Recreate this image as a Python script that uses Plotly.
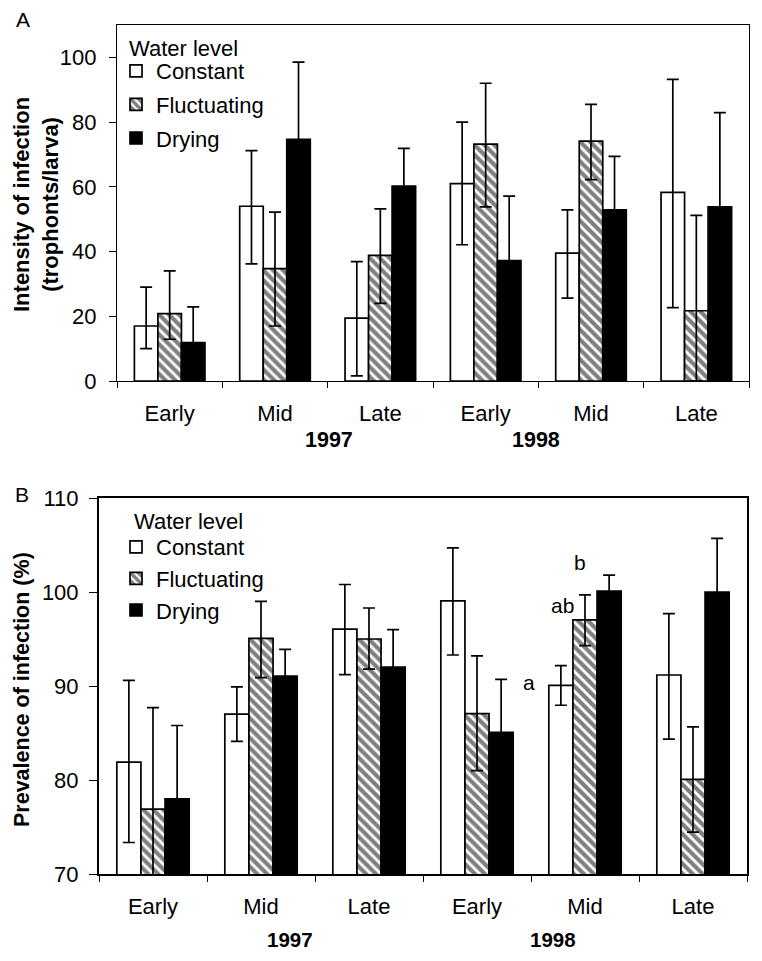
import plotly.graph_objects as go

# ---------------- data ----------------
categories = ["Early", "Mid", "Late", "Early", "Mid", "Late"]
years = ["1997", "1998"]
series = ["Constant", "Fluctuating", "Drying"]
legend_title = "Water level"
ytitle_a = "Intensity of infection<br>(trophonts/larva)"
ytitle_b = "Prevalence of infection (%)"

# Panel A: intensity of infection (trophonts/larva)
a_constant = [17, 54, 19.4, 61, 39.5, 58.3]
a_constant_up = [29, 71.2, 36.9, 80, 52.9, 93.2]
a_constant_lo = [10, 36.2, 1.6, 42.1, 25.6, 22.7]
a_fluct = [20.8, 34.7, 38.8, 73.2, 74.1, 21.7]
a_fluct_up = [34, 52.2, 53.2, 92, 85.5, 51.2]
a_fluct_lo = [12.9, 17, 24, 53.8, 62.2, 0]
a_drying = [11.9, 74.7, 60.2, 37.2, 52.9, 53.8]
a_drying_up = [22.9, 98.5, 71.9, 57.1, 69.4, 82.9]
a_drying_lo = [4, 55, 50, 22, 40, 30]

# Panel B: prevalence of infection (%)
b_constant = [81.9, 87.0, 96.05, 99.06, 90.07, 91.17]
b_constant_up = [90.6, 89.9, 100.8, 104.7, 92.16, 97.7]
b_constant_lo = [73.35, 84.1, 91.2, 93.3, 87.95, 84.35]
b_fluct = [76.9, 95.06, 95.0, 87.07, 97.04, 80.07]
b_fluct_up = [87.7, 99.0, 98.3, 93.2, 99.7, 85.65]
b_fluct_lo = [66.1, 90.9, 91.8, 81.0, 94.3, 74.45]
b_drying = [78.0, 91.06, 92.0, 85.06, 100.1, 100.0]
b_drying_up = [85.8, 93.9, 96.0, 90.7, 101.8, 105.7]
b_drying_lo = [70.2, 88.2, 88.0, 79.4, 98.4, 94.3]

letters = ["a", "ab", "b"]

x_pos = list(range(len(categories)))
FONT = "Liberation Sans, Arial, sans-serif"

fig = go.Figure()

def add_bars(vals, up, lo, name, style, xa, ya, legend):
    err = dict(type="data", symmetric=False,
               array=[u - v for u, v in zip(up, vals)],
               arrayminus=[v - l for v, l in zip(vals, lo)],
               color="black", thickness=1.7, width=6)
    marker = dict(line=dict(color="black", width=1.7))
    if style == "white":
        marker["color"] = "white"
    elif style == "hatch":
        marker["color"] = "white"
        marker["pattern"] = dict(shape="\\", fgcolor="black", bgcolor="white",
                                 size=7, solidity=0.6)
    else:
        marker["color"] = "black"
    fig.add_trace(go.Bar(x=x_pos, y=vals, name=name, marker=marker,
                         error_y=err, xaxis=xa, yaxis=ya, legend=legend,
                         legendgroup=name + legend, showlegend=True))

styles = ["white", "hatch", "black"]
for vals, up, lo, nm, st in zip([a_constant, a_fluct, a_drying],
                                [a_constant_up, a_fluct_up, a_drying_up],
                                [a_constant_lo, a_fluct_lo, a_drying_lo],
                                series, styles):
    add_bars(vals, up, lo, nm, st, "x", "y", "legend")
for vals, up, lo, nm, st in zip([b_constant, b_fluct, b_drying],
                                [b_constant_up, b_fluct_up, b_drying_up],
                                [b_constant_lo, b_fluct_lo, b_drying_lo],
                                series, styles):
    add_bars(vals, up, lo, nm, st, "x2", "y2", "legend2")

# the page body adds an 8 px margin, so the figure is 16 px smaller than the window
OFF = 8
W, H = 762 - 2 * OFF, 961 - 2 * OFF
def px_x(p): return (p - OFF) / W
def px_y(p): return 1 - (p - OFF) / H

boundaries = [i - 0.5 for i in range(len(categories) + 1)]
def xaxis_cfg(lw, standoff):
    return dict(range=[-0.5, 5.5], tickvals=x_pos, ticktext=categories, ticks="",
                showline=True, linecolor="black", linewidth=lw, mirror=True,
                tickfont=dict(family=FONT, size=22, color="black"),
                minor=dict(tickvals=boundaries, ticks="outside", ticklen=6,
                           tickcolor="black", tickwidth=1.3),
                ticklabelstandoff=standoff, automargin=False,
                showgrid=False, zeroline=False, fixedrange=True)

def yaxis_cfg(lw, tlen, standoff):
    return dict(showline=True, linecolor="black", linewidth=lw, mirror=True,
                ticks="outside", ticklen=tlen, tickcolor="black", tickwidth=1.3,
                tickfont=dict(family=FONT, size=22, color="black"),
                ticklabelstandoff=standoff, automargin=False,
                showgrid=False, zeroline=False)

fig.update_layout(
    width=W, height=H, margin=dict(l=0, r=0, t=0, b=0, autoexpand=False),
    paper_bgcolor="white", plot_bgcolor="white",
    barmode="group", bargap=0.33, bargroupgap=0,
    font=dict(family=FONT, color="black"),
    xaxis=dict(domain=[px_x(117), px_x(749)], anchor="y", **xaxis_cfg(1.3, 12)),
    yaxis=dict(domain=[px_y(381), px_y(25)], anchor="x", range=[0, 110],
               tickvals=[0, 20, 40, 60, 80, 100], **yaxis_cfg(1.3, 7, 8)),
    xaxis2=dict(domain=[px_x(99), px_x(747)], anchor="y2", **xaxis_cfg(2, 12)),
    yaxis2=dict(domain=[px_y(874), px_y(498)], anchor="x2", range=[70, 110],
                tickvals=[70, 80, 90, 100, 110], **yaxis_cfg(2, 8, 6)),
    legend=dict(x=px_x(116), y=px_y(50), xanchor="left", yanchor="top",
                bgcolor="rgba(0,0,0,0)", font=dict(family=FONT, size=22),
                tracegroupgap=2, itemwidth=30),
    legend2=dict(x=px_x(116), y=px_y(526), xanchor="left", yanchor="top",
                 bgcolor="rgba(0,0,0,0)", font=dict(family=FONT, size=22),
                 tracegroupgap=0, itemwidth=30),
)

ann = []
# panel letters
ann.append(dict(text="A", x=px_x(23), y=px_y(20), xref="paper", yref="paper",
                showarrow=False, font=dict(size=21), xanchor="center", yanchor="middle"))
ann.append(dict(text="B", x=px_x(21.5), y=px_y(494.5), xref="paper", yref="paper",
                showarrow=False, font=dict(size=21), xanchor="center", yanchor="middle"))
# y-axis titles
ann.append(dict(text="<b>" + ytitle_a + "</b>", x=px_x(36), y=px_y(205), xref="paper",
                yref="paper", textangle=-90, showarrow=False, font=dict(size=22),
                xanchor="center", yanchor="middle"))
ann.append(dict(text="<b>" + ytitle_b + "</b>", x=px_x(22), y=px_y(690), xref="paper",
                yref="paper", textangle=-90, showarrow=False, font=dict(size=21.5),
                xanchor="center", yanchor="middle"))
# legend titles
ann.append(dict(text=legend_title, x=px_x(127), y=px_y(48), xref="paper", yref="paper",
                showarrow=False, font=dict(size=22), xanchor="left", yanchor="middle"))
ann.append(dict(text=legend_title, x=px_x(132), y=px_y(521), xref="paper", yref="paper",
                showarrow=False, font=dict(size=22), xanchor="left", yanchor="middle"))
# year labels
ann.append(dict(text="<b>" + years[0] + "</b>", x=1.51, y=px_y(440), xref="x", yref="paper",
                showarrow=False, font=dict(size=21.5), yanchor="middle"))
ann.append(dict(text="<b>" + years[1] + "</b>", x=3.48, y=px_y(440), xref="x", yref="paper",
                showarrow=False, font=dict(size=21.5), yanchor="middle"))
ann.append(dict(text="<b>" + years[0] + "</b>", x=1.27, y=px_y(939), xref="x2", yref="paper",
                showarrow=False, font=dict(size=20.5), yanchor="middle", borderpad=0))
ann.append(dict(text="<b>" + years[1] + "</b>", x=3.70, y=px_y(939), xref="x2", yref="paper",
                showarrow=False, font=dict(size=20.5), yanchor="middle", borderpad=0))
# significance letters (panel B, 1998 Mid)
ann.append(dict(text=letters[0], x=4, y=b_constant_up[4], xref="x2", yref="y2",
                xshift=-56, yshift=-17, showarrow=False, font=dict(size=21)))
ann.append(dict(text=letters[1], x=4, y=b_fluct_up[4], xref="x2", yref="y2",
                xshift=-23, yshift=-11, showarrow=False, font=dict(size=21)))
ann.append(dict(text=letters[2], x=4, y=b_drying_up[4], xref="x2", yref="y2",
                xshift=-5, yshift=13, showarrow=False, font=dict(size=21)))
fig.update_layout(annotations=ann)

fig.write_html("out.html")
